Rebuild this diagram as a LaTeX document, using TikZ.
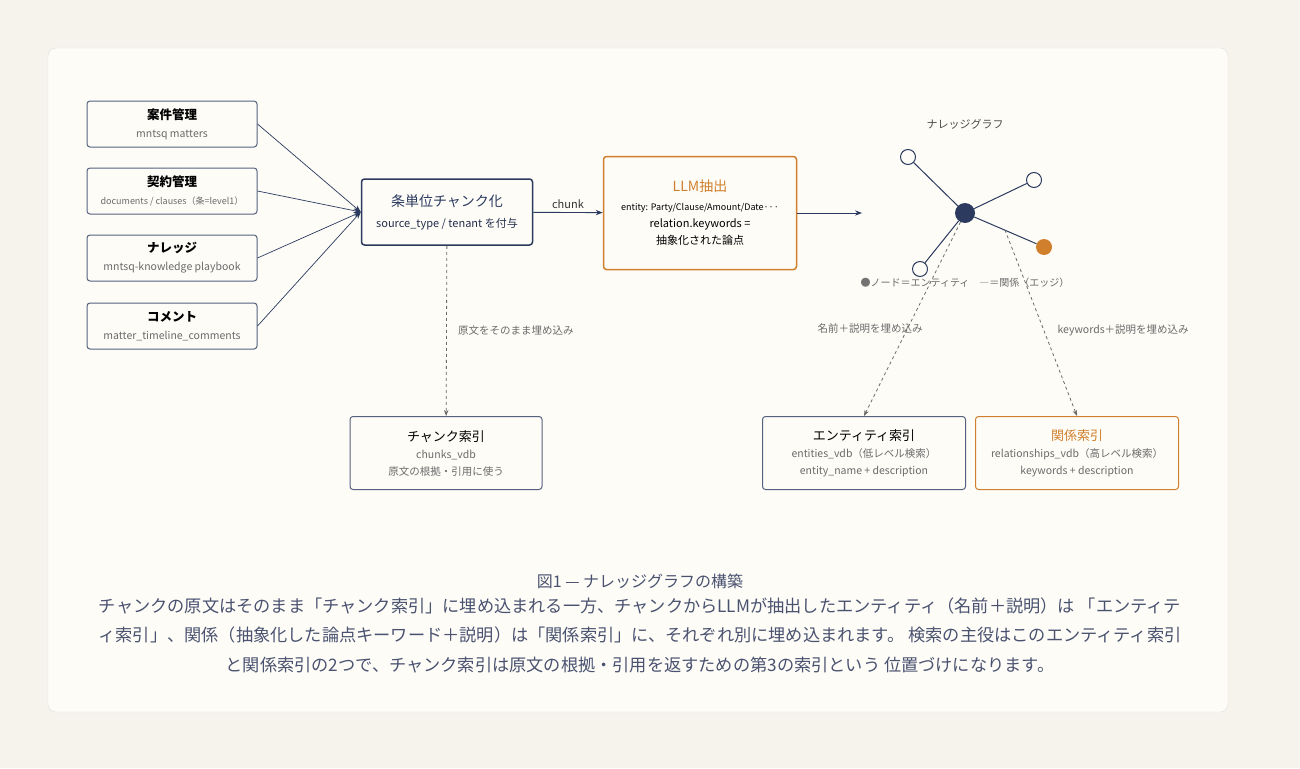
\documentclass[tikz,border=0pt]{standalone}
\usepackage{fontspec}
\setmainfont{Noto Sans CJK JP}
\usetikzlibrary{arrows.meta,positioning}
\definecolor{navy}{HTML}{2B3A5E}
\definecolor{ochre}{HTML}{D07F2C}
\definecolor{ink}{HTML}{4A5270}
\definecolor{subgray}{HTML}{6A6A6A}
\definecolor{cardbg}{HTML}{FDFCF7}
\definecolor{pagebg}{HTML}{F5F3EC}
\newcommand{\sub}[1]{{\fontsize{10.5}{14}\selectfont\color{subgray}#1}}

\begin{document}
\begin{tikzpicture}[
			x=1pt, y=-1pt,
			src/.style={rectangle, draw=navy!80, line width=1pt, rounded corners=3pt, minimum width=170pt, minimum height=46pt, align=center, font=\fontsize{12.5}{18}\selectfont},
			idx/.style={rectangle, draw=navy!80, line width=1pt, rounded corners=3pt, minimum width=192pt, minimum height=73pt, align=center, font=\fontsize{13}{19}\selectfont},
			open/.style={circle, draw=navy, line width=1pt, fill=cardbg, minimum size=15pt, inner sep=0pt},
			lbl/.style={font=\fontsize{10.5}{12}\selectfont, text=subgray},
			arrow/.style={-{Stealth[length=7pt]}, navy, line width=0.9pt},
			embed/.style={-{Stealth[length=6pt]}, subgray, dashed, line width=0.8pt}
			]
			
			% Background
			\fill[pagebg] (0,0) rectangle (1300,768);
			\filldraw[fill=cardbg, draw=black!12, rounded corners=8pt] (48,48) rectangle (1228,712);
			
			% Sources
			\node[src] (matters) at (172,124) {\textbf{案件管理}\\\sub{mntsq matters}};
			\node[src] (docs) at (172,191) {\textbf{契約管理}\\{\fontsize{9}{14}\selectfont\color{subgray}documents / clauses（条=level1）}};
			\node[src] (know) at (172,258) {\textbf{ナレッジ}\\\sub{mntsq-knowledge playbook}};
			\node[src] (comments) at (172,326) {\textbf{コメント}\\\sub{matter\_timeline\_comments}};
			
			% Chunking and extraction
			\node[src, draw=navy, line width=1.5pt, minimum width=171pt, minimum height=66pt, text=navy, font=\fontsize{14}{21}\selectfont] (chunk) at (447,212) {条単位チャンク化\\{\fontsize{11}{15}\selectfont\color{navy!80!black}source\_type / tenant を付与}};
			\node[src, draw=ochre, line width=1.5pt, minimum width=193pt, minimum height=113pt, font=\fontsize{11}{17}\selectfont] (llm) at (700,213) {{\fontsize{14}{19}\selectfont\color{ochre}LLM抽出}\\[2pt]{\fontsize{9}{13}\selectfont entity: Party/Clause/Amount/Date\textperiodcentered\textperiodcentered\textperiodcentered}\\relation.keywords =\\抽象化された論点};
			\coordinate (graphin) at (862,213);
			
			% Knowledge graph
			\node[font=\fontsize{11}{12}\selectfont, text=black!70] (gtitle) at (965,124) {ナレッジグラフ};
			\node[circle, fill=navy, minimum size=20pt, inner sep=0pt] (hub) at (965,213) {};
			\node[open] (g1) at (908,157) {};
			\node[open] (g2) at (1034,180) {};
			\node[circle, fill=ochre, minimum size=16pt, inner sep=0pt] (g3) at (1044,247) {};
			\node[open] (g4) at (920,269) {};
			\foreach \g in {g1,g2,g3,g4}
				\draw[navy, line width=1pt] (hub) -- (\g);
			\node[lbl, font=\fontsize{10}{12}\selectfont] (legend) at (965,283) {{\color{black!55}●}ノード＝エンティティ\quad ―＝関係（エッジ）};
			
			% Indexes
			\node[idx] (chunkidx) at (446,453) {チャンク索引\\[-2pt]\sub{chunks\_vdb}\\[-2pt]\sub{原文の根拠・引用に使う}};
			\node[idx, minimum width=203pt] (entidx) at (864,453) {エンティティ索引\\[-2pt]\sub{entities\_vdb（低レベル検索）}\\[-2pt]\sub{entity\_name + description}};
			\node[idx, draw=ochre, minimum width=203pt] (relidx) at (1077,453) {{\color{ochre}関係索引}\\[-2pt]\sub{relationships\_vdb（高レベル検索）}\\[-2pt]\sub{keywords + description}};
			
			% Connections
			\foreach \s in {matters,docs,know,comments}
				\draw[arrow, line width=0.7pt] (\s.east) -- (chunk.west);
			\draw[arrow] (chunk) -- node[above, font=\fontsize{11}{12}\selectfont, text=black!80] {chunk} (llm);
			\draw[arrow] (llm) -- (graphin);
			
			% Embeddings
			\draw[embed] (chunk) -- node[right=8pt, lbl] {原文をそのまま埋め込み} (chunkidx);
			\draw[embed] (hub) -- node[pos=0.55, anchor=east, xshift=19pt, lbl] {名前＋説明を埋め込み} (entidx.north);
			\coordinate (edgemid) at (1005,230);
			\draw[embed] (edgemid) -- node[pos=0.54, anchor=west, xshift=10pt, lbl] {keywords＋説明を埋め込み} (relidx.north);
			
			% Caption
			\node[font=\fontsize{16}{18}\selectfont, text=ink] (ctitle) at (640,581) {図1 — ナレッジグラフの構築};
			\node[font=\fontsize{17.2}{29.5}\selectfont, text=ink, align=center, below=2pt of ctitle] (caption) {チャンクの原文はそのまま「チャンク索引」に埋め込まれる一方、チャンクからLLMが抽出したエンティティ（名前＋説明）は 「エンティテ\\ィ索引」、関係（抽象化した論点キーワード＋説明）は「関係索引」に、それぞれ別に埋め込まれます。 検索の主役はこのエンティティ索引\\と関係索引の2つで、チャンク索引は原文の根拠・引用を返すための第3の索引という 位置づけになります。};
			
		\end{tikzpicture}
\end{document}
